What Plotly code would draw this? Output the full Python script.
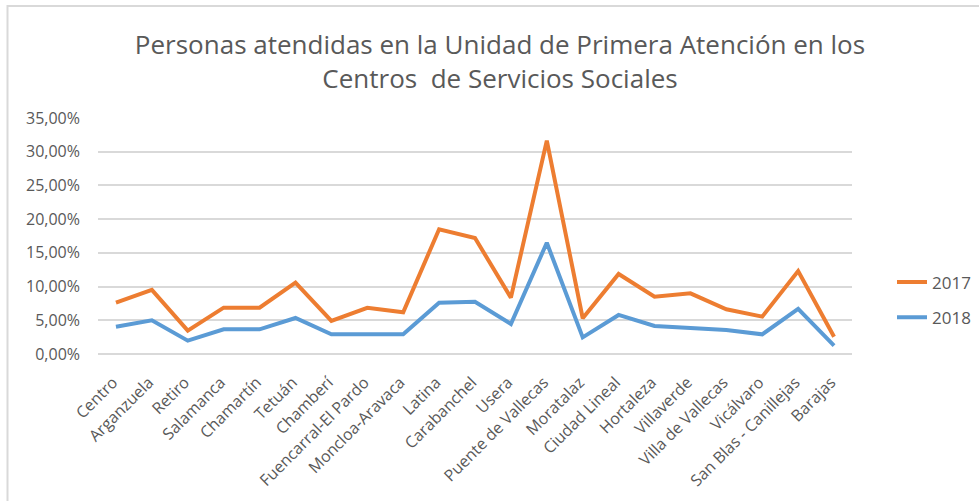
import plotly.graph_objects as go

distritos = ["Centro", "Arganzuela", "Retiro", "Salamanca", "Chamartín", "Tetuán",
             "Chamberí", "Fuencarral-El Pardo", "Moncloa-Aravaca", "Latina", "Carabanchel",
             "Usera", "Puente de Vallecas", "Moratalaz", "Ciudad Lineal", "Hortaleza",
             "Villaverde", "Villa de Vallecas", "Vicálvaro", "San Blas - Canillejas", "Barajas"]

v2017 = [0.0761, 0.095, 0.0346, 0.0687, 0.0687, 0.106, 0.049, 0.0685, 0.0618, 0.185, 0.172,
         0.0836, 0.3165, 0.053, 0.1187, 0.085, 0.090, 0.0663, 0.0554, 0.123, 0.0257]
v2018 = [0.0405, 0.050, 0.0198, 0.0366, 0.0366, 0.0534, 0.0292, 0.0292, 0.0292, 0.0761, 0.0776,
         0.0445, 0.165, 0.0247, 0.0579, 0.0415, 0.039, 0.0356, 0.0292, 0.0668, 0.0124]

FONT = "Open Sans"
GREY = "#595959"

fig = go.Figure()
fig.add_trace(go.Scatter(x=distritos, y=v2017, mode="lines", name="2017", legendgroup="a",
                         line=dict(color="#ED7D31", width=4)))
fig.add_trace(go.Scatter(x=distritos, y=v2018, mode="lines", name="2018", legendgroup="b",
                         line=dict(color="#5B9BD5", width=4)))

fig.update_layout(
    width=979, height=501,
    margin=dict(l=98, r=127, t=118, b=147, autoexpand=False),
    paper_bgcolor="white", plot_bgcolor="white",
    separators=",.",
    font=dict(family=FONT, color=GREY),
    title=dict(text="Personas atendidas en la Unidad de Primera Atención en los<br>Centros  de Servicios Sociales",
               x=500/979, xref="container", xanchor="center",
               y=1 - 54/501, yref="container", yanchor="middle",
               font=dict(family=FONT, size=26, color=GREY)),
    xaxis=dict(type="category", range=[-0.5, len(distritos) - 0.5],
               showgrid=False, showline=False, ticks="", tickangle=-45,
               ticklabelstandoff=15, ticklabelshift=-3,
               tickfont=dict(family=FONT, size=16, color=GREY)),
    yaxis=dict(range=[0, 0.35], dtick=0.05, tickformat=".2%", showgrid=True,
               gridcolor="#d9d9d9", gridwidth=1.5, zeroline=True, zerolinecolor="#d9d9d9",
               zerolinewidth=1.5, showline=False, ticks="", ticklabelstandoff=17,
               tickfont=dict(family=FONT, size=16, color=GREY)),
    legend=dict(x=892/979, xref="container", y=1 - 300/501, yref="container",
                xanchor="left", yanchor="middle", tracegroupgap=10,
                font=dict(family=FONT, size=17, color=GREY), bgcolor="rgba(0,0,0,0)"),
    showlegend=True,
)

fig.add_shape(type="rect", xref="paper", yref="paper",
              x0=(7.5 - 98) / (979 - 98 - 127), x1=(1000 - 98) / (979 - 98 - 127),
              y0=(354 - 520) / (354 - 118), y1=(354 - 6) / (354 - 118),
              line=dict(color="#d9d9d9", width=2), fillcolor="rgba(0,0,0,0)", layer="below")

fig.write_html("out.html", config={"displayModeBar": False},
               post_script="document.body.style.margin='0';")
